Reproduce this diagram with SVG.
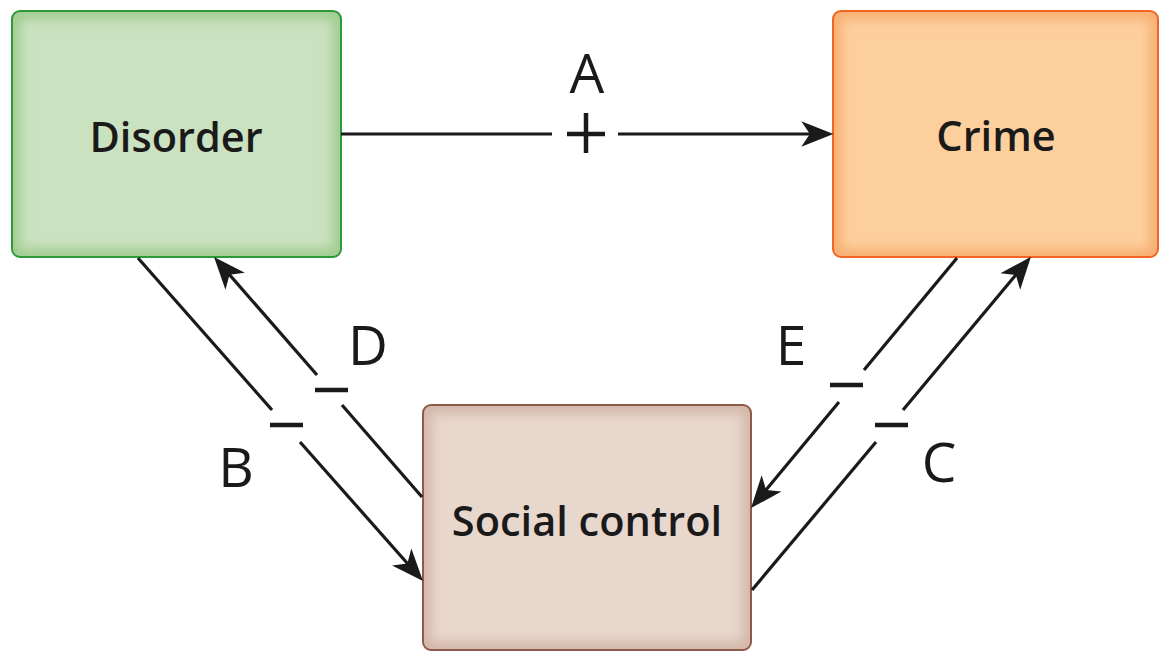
<svg xmlns="http://www.w3.org/2000/svg" width="1160" height="652" viewBox="0 0 1160 652">
<style>
.node-text{font-family:"Open Sans","Noto Sans","Liberation Sans",sans-serif;font-weight:600;font-size:41.5px;fill:#1a1a1a;text-anchor:middle}
.lbl{font-family:"Open Sans","Noto Sans","Liberation Sans",sans-serif;font-weight:400;font-size:55px;fill:#1a1a1a;text-anchor:middle}
.ln{stroke:#1a1a1a;stroke-width:3.2;fill:none}
.sign{stroke:#1a1a1a;stroke-width:4.5;fill:none}
</style>
<defs>
<marker id="arr" markerUnits="userSpaceOnUse" markerWidth="40" markerHeight="30" viewBox="-12 -14 34 28" refX="0" refY="0" orient="auto">
<path d="M20,0 L-10,-12 L-2,0 L-10,12 Z" fill="#1a1a1a"/>
</marker>
<filter id="blur" x="-10%" y="-10%" width="120%" height="120%"><feGaussianBlur stdDeviation="6"/></filter>
<clipPath id="c1"><rect x="12" y="11" width="329" height="246" rx="8"/></clipPath>
<clipPath id="c2"><rect x="833" y="11" width="325" height="246" rx="8"/></clipPath>
<clipPath id="c3"><rect x="423" y="405" width="328" height="245" rx="8"/></clipPath>
</defs>
<g id="disorder">
<rect x="12" y="11" width="329" height="246" rx="8" fill="#cbe2c0"/>
<g clip-path="url(#c1)"><rect x="12" y="11" width="329" height="246" rx="8" fill="none" stroke="#9fcb8f" stroke-width="16" filter="url(#blur)"/></g>
<rect x="12" y="11" width="329" height="246" rx="8" fill="none" stroke="#2c9a3c" stroke-width="2"/>
<text class="node-text" x="176" y="152">Disorder</text>
</g>
<g id="crime">
<rect x="833" y="11" width="325" height="246" rx="8" fill="#fdcf9d"/>
<g clip-path="url(#c2)"><rect x="833" y="11" width="325" height="246" rx="8" fill="none" stroke="#f7ad70" stroke-width="16" filter="url(#blur)"/></g>
<rect x="833" y="11" width="325" height="246" rx="8" fill="none" stroke="#f26522" stroke-width="2"/>
<text class="node-text" x="996" y="151">Crime</text>
</g>
<g id="social-control">
<rect x="423" y="405" width="328" height="245" rx="8" fill="#e8d7cd"/>
<g clip-path="url(#c3)"><rect x="423" y="405" width="328" height="245" rx="8" fill="none" stroke="#d2b6a7" stroke-width="16" filter="url(#blur)"/></g>
<rect x="423" y="405" width="328" height="245" rx="8" fill="none" stroke="#8d5b47" stroke-width="2"/>
<text class="node-text" x="587" y="536">Social control</text>
</g>
<g id="connectors">
<!-- A -->
<line class="ln" x1="341" y1="134" x2="552" y2="134"/>
<line class="ln" x1="618" y1="134" x2="812" y2="134" marker-end="url(#arr)"/>
<line class="sign" x1="567" y1="134" x2="605" y2="134"/>
<line class="sign" x1="586" y1="113" x2="586" y2="153"/>
<!-- B -->
<line class="ln" x1="138" y1="258" x2="272" y2="410"/>
<line class="ln" x1="300" y1="442" x2="408.8" y2="565" marker-end="url(#arr)"/>
<line class="sign" x1="270" y1="425" x2="303" y2="425"/>
<!-- D -->
<line class="ln" x1="422" y1="497" x2="342" y2="405"/>
<line class="ln" x1="317" y1="375" x2="228.1" y2="273.1" marker-end="url(#arr)"/>
<line class="sign" x1="315" y1="390" x2="348" y2="390"/>
<!-- E -->
<line class="ln" x1="957" y1="258" x2="864" y2="370"/>
<line class="ln" x1="839" y1="402" x2="764.7" y2="491.6" marker-end="url(#arr)"/>
<line class="sign" x1="830" y1="385" x2="863" y2="385"/>
<!-- C -->
<line class="ln" x1="752" y1="590" x2="876" y2="442"/>
<line class="ln" x1="903" y1="410" x2="1017.2" y2="273.3" marker-end="url(#arr)"/>
<line class="sign" x1="875" y1="425" x2="908" y2="425"/>
</g>
<g id="labels">
<text class="lbl" x="587" y="93">A</text>
<text class="lbl" x="368" y="365">D</text>
<text class="lbl" x="236" y="487">B</text>
<text class="lbl" x="791" y="365">E</text>
<text class="lbl" x="939" y="482">C</text>
</g>
</svg>
